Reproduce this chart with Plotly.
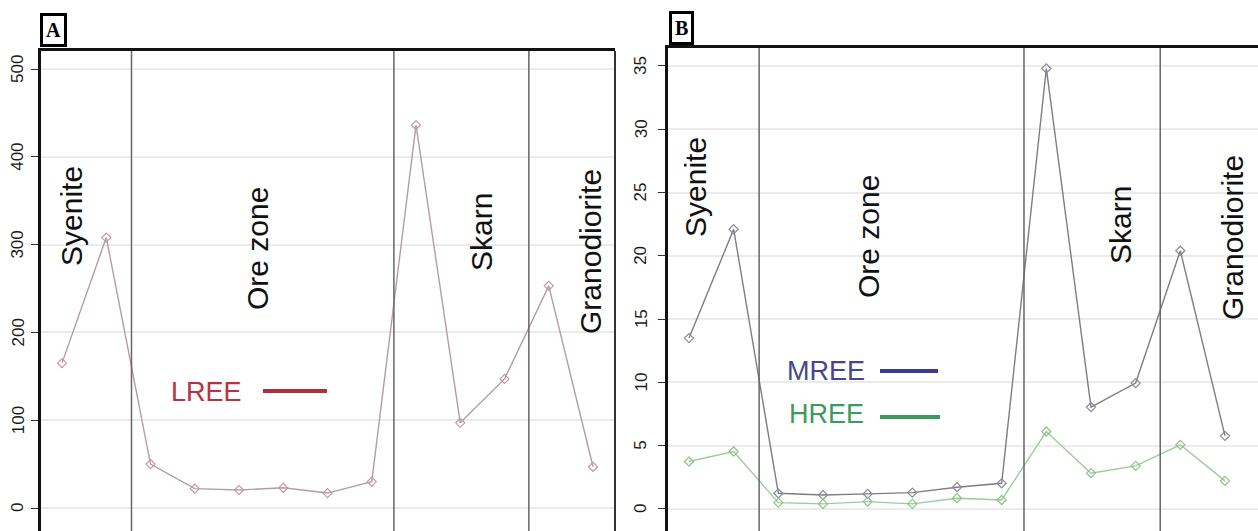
import plotly.graph_objects as go

# ---------------- data ----------------
samples = list(range(1, 14))
lree = [165, 308, 50, 22, 20.5, 23, 17, 30, 436, 97, 147, 253, 47]
mree = [13.5, 22.1, 1.24, 1.1, 1.19, 1.29, 1.72, 2.03, 34.8, 8.05, 9.95, 20.4, 5.78]
hree = [3.75, 4.54, 0.5, 0.4, 0.58, 0.4, 0.85, 0.71, 6.12, 2.83, 3.4, 5.07, 2.22]
zone_bounds = [2.57, 8.5, 11.55]
zones = ["Syenite", "Ore zone", "Skarn", "Granodiorite"]
ticks_a = [0, 100, 200, 300, 400, 500]
ticks_b = [0, 5, 10, 15, 20, 25, 30, 35]

W, H = 1258, 531
def px(x):
    return x / W
def py(y):
    return 1 - y / H

FONT = "Arial, Liberation Sans, sans-serif"

dom_a = [0, py(51)]
dom_b = [0, py(48)]
rng_a = [-26.2, 520.5]
rng_b = [-1.74, 36.42]

def to_paper(v, dom, rng):
    return dom[0] + (v - rng[0]) / (rng[1] - rng[0]) * (dom[1] - dom[0])

fig = go.Figure()

fig.add_trace(go.Scatter(x=samples, y=lree, mode="lines+markers", xaxis="x", yaxis="y",
                         line=dict(color="#b69ca1", width=1.4),
                         marker=dict(symbol="diamond-open", size=7, color="#c09aa3", line=dict(width=1.2)),
                         showlegend=False))
fig.add_trace(go.Scatter(x=samples, y=mree, mode="lines+markers", xaxis="x2", yaxis="y2",
                         line=dict(color="#7d7d84", width=1.4),
                         marker=dict(symbol="diamond-open", size=7, color="#8a8a9a", line=dict(width=1.2)),
                         showlegend=False))
fig.add_trace(go.Scatter(x=samples, y=hree, mode="lines+markers", xaxis="x2", yaxis="y2",
                         line=dict(color="#9ccb9a", width=1.4),
                         marker=dict(symbol="diamond-open", size=7, color="#8cc48c", line=dict(width=1.2)),
                         showlegend=False))

yax_common = dict(showgrid=True, gridcolor="#ebebeb", gridwidth=1.5, zeroline=False,
                  ticks="outside", ticklen=7, tickcolor="#333", tickwidth=1.2,
                  showticklabels=False,
                  showline=True, linecolor="#111", linewidth=3)
xax_common = dict(showgrid=False, zeroline=False, showticklabels=False, ticks="",
                  showline=True, linecolor="#111", linewidth=2.5, side="top", mirror=False)

fig.update_layout(
    width=W, height=H, margin=dict(l=0, r=0, t=0, b=0),
    paper_bgcolor="white", plot_bgcolor="white",
    xaxis=dict(domain=[px(41), px(615)], range=[0.525, 13.497], anchor="y", **xax_common),
    yaxis=dict(domain=dom_a, range=rng_a, tickvals=ticks_a, anchor="x", **yax_common),
    xaxis2=dict(domain=[px(668), 1.0], range=[0.53, 13.739], anchor="y2", **xax_common),
    yaxis2=dict(domain=dom_b, range=rng_b, tickvals=ticks_b, anchor="x2", **yax_common),
)

shapes = []
# right border of panel A
shapes.append(dict(type="line", xref="x domain", yref="y domain", x0=1, x1=1, y0=0, y1=1,
                   line=dict(color="#333", width=2)))
# zone boundaries
for xr, yr in (("x", "y domain"), ("x2", "y2 domain")):
    for b in zone_bounds:
        shapes.append(dict(type="line", xref=xr, yref=yr, x0=b, x1=b, y0=0, y1=1,
                           line=dict(color="#666", width=1.5)))
# legend lines
shapes.append(dict(type="line", xref="paper", yref="paper", x0=px(263), x1=px(327), y0=py(391), y1=py(391),
                   line=dict(color="#b0303f", width=4)))
shapes.append(dict(type="line", xref="paper", yref="paper", x0=px(880), x1=px(938), y0=py(371), y1=py(371),
                   line=dict(color="#3b3c8c", width=4)))
shapes.append(dict(type="line", xref="paper", yref="paper", x0=px(880), x1=px(940), y0=py(417), y1=py(417),
                   line=dict(color="#3a9a5c", width=4)))
fig.update_layout(shapes=shapes)

ann = []
# rotated y tick labels (R-style, parallel to the axis)
for t in ticks_a:
    ann.append(dict(text=str(t), x=px(18), y=to_paper(t, dom_a, rng_a), xref="paper", yref="paper",
                    textangle=-90, showarrow=False, font=dict(family=FONT, size=17, color="#1a1a1a"),
                    xanchor="center", yanchor="middle"))
for t in ticks_b:
    ann.append(dict(text=str(t), x=px(641), y=to_paper(t, dom_b, rng_b), xref="paper", yref="paper",
                    textangle=-90, showarrow=False, font=dict(family=FONT, size=17, color="#1a1a1a"),
                    xanchor="center", yanchor="middle"))

zone_pos_a = [(71, 216), (257, 249), (481, 232), (590, 252)]
zone_pos_b = [(695, 187), (868, 237), (1120, 225), (1232, 238)]
for name, (x, y) in zip(zones, zone_pos_a):
    ann.append(dict(text=name, x=px(x), y=py(y), xref="paper", yref="paper", textangle=-90,
                    showarrow=False, font=dict(family=FONT, size=30, color="#111"),
                    xanchor="center", yanchor="middle"))
for name, (x, y) in zip(zones, zone_pos_b):
    ann.append(dict(text=name, x=px(x), y=py(y), xref="paper", yref="paper", textangle=-90,
                    showarrow=False, font=dict(family=FONT, size=30, color="#111"),
                    xanchor="center", yanchor="middle"))
# legend texts
ann.append(dict(text="LREE", x=px(207), y=py(392), xref="paper", yref="paper", showarrow=False,
                font=dict(family=FONT, size=27, color="#b8323f"), xanchor="center", yanchor="middle"))
ann.append(dict(text="MREE", x=px(826), y=py(371), xref="paper", yref="paper", showarrow=False,
                font=dict(family=FONT, size=27, color="#45468e"), xanchor="center", yanchor="middle"))
ann.append(dict(text="HREE", x=px(826), y=py(414), xref="paper", yref="paper", showarrow=False,
                font=dict(family=FONT, size=27, color="#3c9a5c"), xanchor="center", yanchor="middle"))
# panel labels
for lab, (x, y) in (("A", (53, 30)), ("B", (681, 28))):
    ann.append(dict(text="<b>" + lab + "</b>", x=px(x), y=py(y), xref="paper", yref="paper", showarrow=False,
                    font=dict(family="Liberation Serif, Times New Roman, serif", size=20, color="#000"),
                    bordercolor="#000", borderwidth=3, borderpad=3, bgcolor="white",
                    xanchor="center", yanchor="middle"))
fig.update_layout(annotations=ann)

fig.write_html("out.html")
